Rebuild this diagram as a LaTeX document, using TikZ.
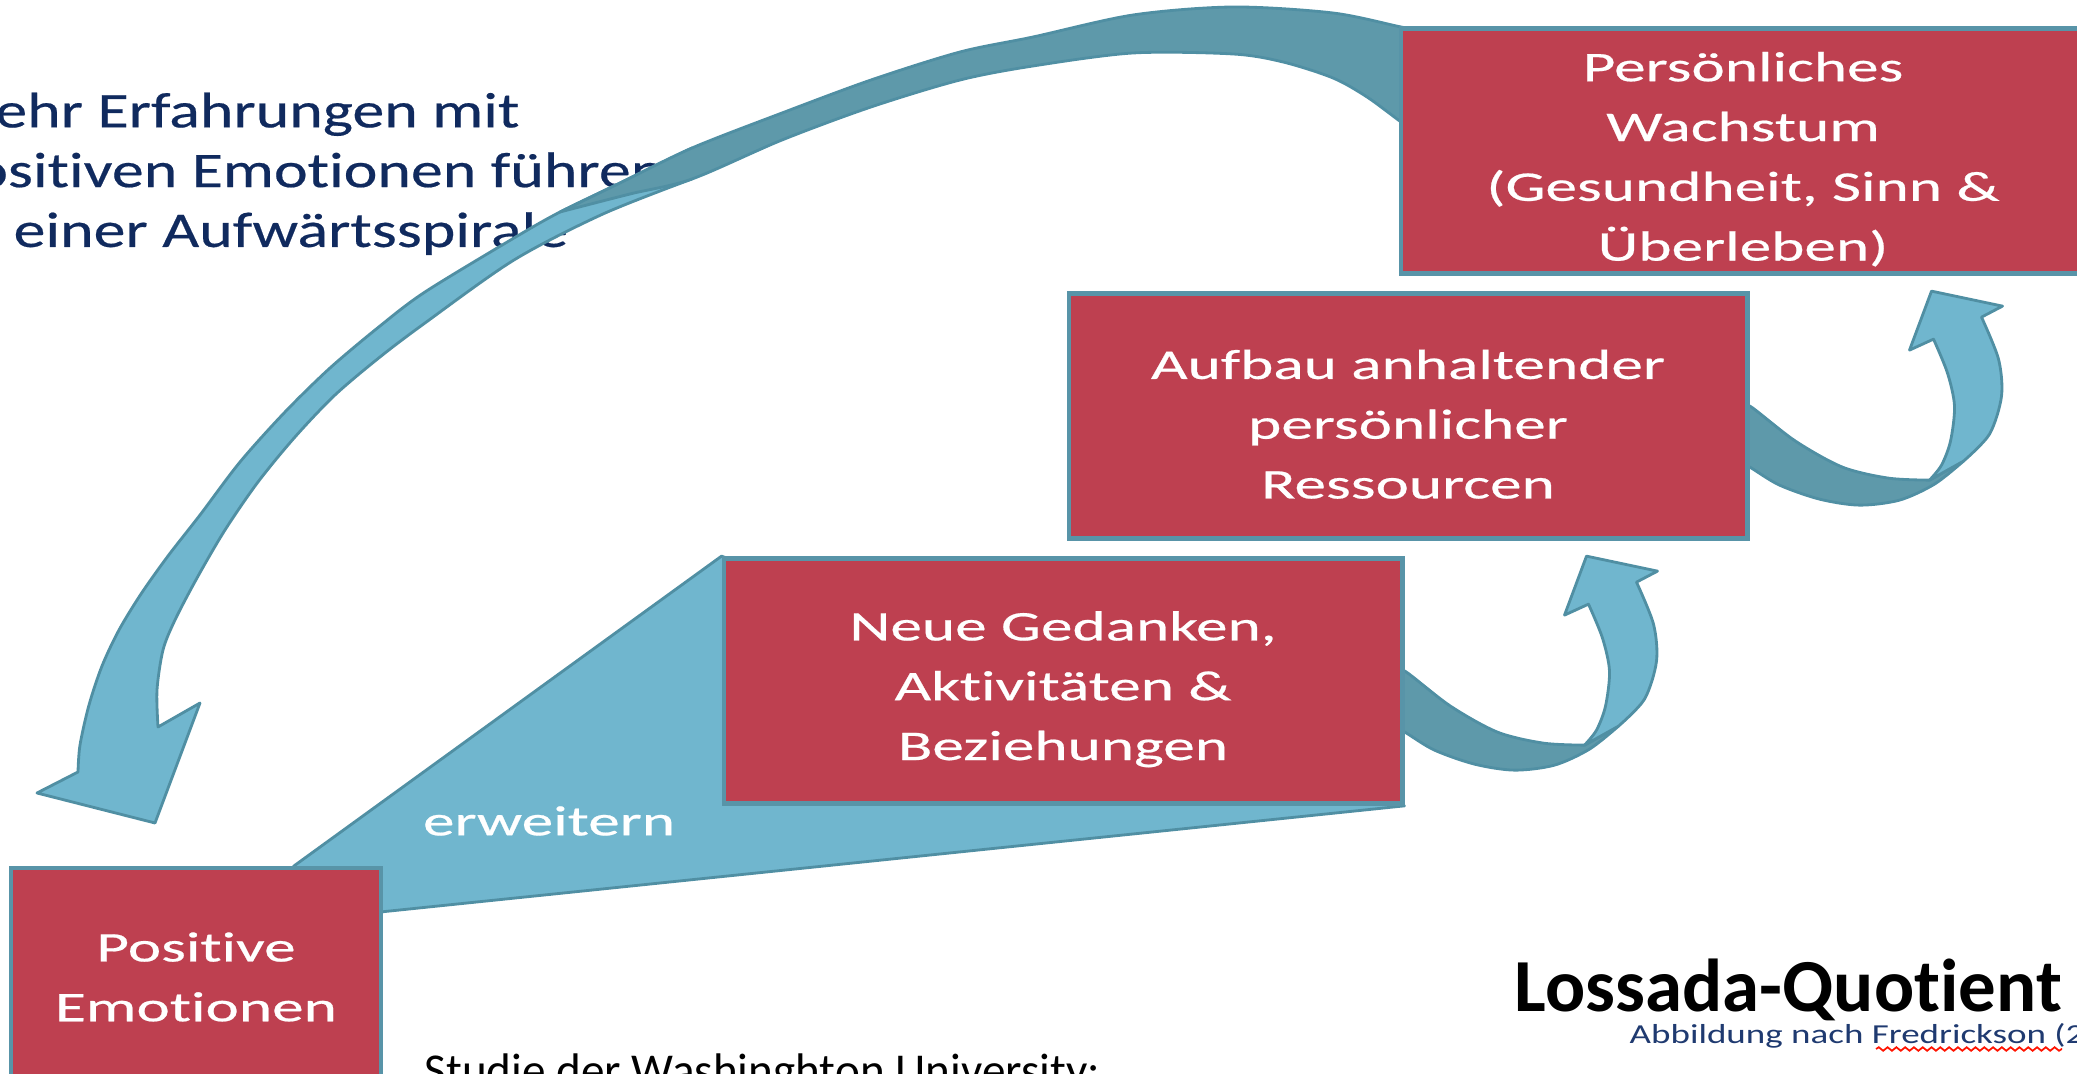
\documentclass[tikz,border=0pt]{standalone}
\usepackage{fontspec}
\setmainfont{Carlito}[Ligatures=NoCommon]
\newfontfamily\boxfont{Carlito}[FakeStretch=1.5, FakeBold=0.5, Ligatures=NoCommon]
\newfontfamily\headfont{Carlito}[FakeStretch=1.28, FakeBold=0.4, Ligatures=NoCommon]
\newfontfamily\notefont{Carlito}[FakeStretch=1.35, Ligatures=NoCommon]
\usetikzlibrary{positioning, decorations.pathmorphing}

\definecolor{boxred}{RGB}{190,64,80}
\definecolor{boxline}{RGB}{88,148,168}
\definecolor{arrlight}{RGB}{112,182,206}
\definecolor{arrdark}{RGB}{94,153,170}
\definecolor{arrline}{RGB}{80,143,163}
\definecolor{navy}{RGB}{16,42,94}
\definecolor{notenavy}{RGB}{31,58,112}

\newcommand{\topstrut}{\rule{0pt}{13pt}}

\pgfdeclarelayer{background}
\pgfsetlayers{background,main}

\begin{document}
\begin{tikzpicture}[x=0.01cm, y=-0.01cm]
\tikzstyle{stage} = [rectangle, draw=boxline, line width=1.3pt, fill=boxred, text=white, align=center, minimum width=6.78cm, minimum height=2.45cm, inner sep=0pt, font=\boxfont\fontsize{12}{17}\selectfont]
\tikzstyle{lightpart} = [fill=arrlight, draw=arrline, line width=0.8pt, line join=round]
\tikzstyle{darkpart} = [fill=arrdark, draw=arrline, line width=0.8pt, line join=round]

\useasboundingbox (0,0) rectangle (2077,1074);
\clip (0,0) rectangle (2077,1074);

% Stages of the spiral
\node (emo) [stage, minimum width=3.7cm, minimum height=2.18cm] at (196,977) {Positive\\Emotionen};
\node (neue) [stage] at (1063,681) {\topstrut Neue Gedanken,\\Aktivitäten \&\\Beziehungen};
\node (aufbau) [stage] at (1408,416) {\topstrut Aufbau anhaltender\\persönlicher\\Ressourcen};
\node (wachstum) [stage, minimum width=6.84cm] at (1743,151) {\topstrut Persönliches\\Wachstum\\(Gesundheit, Sinn \&\\Überleben)};

\node (erw) [text=white, font=\boxfont\fontsize{12}{17}\selectfont] at (549,821) {erweitern};

% Notes
\node (quotient) [anchor=base west, inner sep=0pt, font=\bfseries\fontsize{21.3}{25}\selectfont] at (1514,1011) {Lossada-Quotient};
\node (quelle) [anchor=base west, inner sep=0pt, text=notenavy, font=\notefont\fontsize{7.8}{9}\selectfont] at (1629,1043) {Abbildung nach Fredrickson (2};
\draw [red!85!orange, line width=0.5pt, decorate, decoration={snake, amplitude=0.5pt, segment length=2.5pt}] (1876,1049) -- (2062,1049);
\node (studie) [anchor=base west, inner sep=0pt, font=\fontsize{13.4}{16}\selectfont] at (424,1086) {Studie der Washinghton University:};

\begin{pgfonlayer}{background}
\clip (0,0) rectangle (2077,1074);
\node (spirale) [anchor=north west, align=left, inner sep=0pt, text=navy, font=\headfont\fontsize{14.2}{17}\selectfont] at (-60,92) {Mehr Erfahrungen mit\\positiven Emotionen führen\\zu einer Aufwärtsspirale};

% widening wedge
\draw [lightpart] ([xshift=-0.89cm]emo.north east) -- (neue.north west) -- (neue.south east) -- ([yshift=-0.46cm]emo.north east) -- (emo.center) -- cycle;

% small curled arrows
\foreach \b in {neue, aufbau} {
\begin{scope}[shift={(\b.north east)}]
\draw [darkpart] plot[smooth] coordinates {(-10,112) (2,116) (46,150) (93,176) (139,187) (180,189)} -- (214,170)
  -- plot[smooth] coordinates {(214,170) (185,193) (150,209) (110,214) (70,208) (30,194) (2,177) (-10,170)} -- cycle;
\draw [lightpart] (180,189) -- plot[smooth] coordinates {(214,170) (240,143) (252,105) (249,68) (232,26)} -- (253,15) -- (182,0) -- (160,59) -- (184,48)
  -- plot[smooth] coordinates {(184,48) (198,82) (205,115) (201,150) (192,174) (180,189)} -- cycle;
\end{scope}
}

% big arrow back to the start
\draw [lightpart] plot[smooth] coordinates {(692,148) (620,183) (560,212) (514,238) (425,292) (380,326) (330,368) (285,412) (240,462) (200,515) (168,556) (141,594) (119,630) (102,666) (89,705) (80,745) (78,772)}
  -- (37,793) -- (155,823) -- (200,703) -- (158,727)
  -- plot[smooth] coordinates {(158,727) (157,690) (163,650) (175,620) (197,578) (225,530) (258,482) (295,437) (335,395) (380,357) (425,323) (514,260) (603,214) (692,179)} -- cycle;
\draw [darkpart] plot[smooth] coordinates {(1420,30) (1401,27) (1333,13) (1233,7) (1133,15) (1033,37) (960,52) (871,80) (782,113) (692,148) (620,183) (560,212)}
  -- plot[smooth] coordinates {(560,212) (630,194) (692,179) (782,140) (871,107) (960,80) (1033,66) (1133,53) (1233,54) (1283,62) (1333,78) (1367,97) (1401,122) (1420,135)} -- cycle;
\end{pgfonlayer}
\end{tikzpicture}
\end{document}
